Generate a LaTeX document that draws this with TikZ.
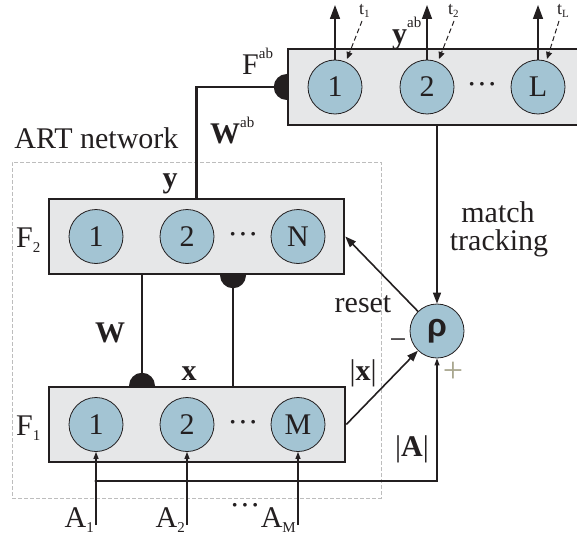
\documentclass[tikz,border=0pt]{standalone}
\usepackage{fontspec}
\setmainfont{Liberation Serif}
\newfontfamily\grsans{Liberation Sans}
\usetikzlibrary{arrows.meta,backgrounds}
\definecolor{ink}{HTML}{231F20}
\definecolor{cfill}{HTML}{A3C4D3}
\definecolor{bfill}{HTML}{E6E7E8}
\definecolor{dgray}{HTML}{BDBDBD}
\definecolor{pluscol}{HTML}{A9A78F}
\newcommand{\fs}[1]{\fontsize{#1}{#1}\selectfont}
\newcommand{\hisc}[1]{\raisebox{16pt}{\fs{15}#1}}
\newcommand{\losc}[1]{\raisebox{-5pt}{\fs{15}#1}}
\tikzset{
  lay/.style={draw=ink, line width=2.5pt, fill=bfill, inner sep=0pt, rectangle},
  unit/.style={circle, draw=ink, line width=0.8pt, fill=cfill, minimum size=54pt, inner sep=0pt, font=\fs{30}, text=ink},
  lbl/.style={font=\fs{30}, inner sep=0pt, text=ink},
  dotsl/.style={font=\fs{31}, inner sep=0pt, text=ink, anchor=base},
  wire/.style={draw=ink, line width=2.2pt},
  arr/.style={draw=ink, line width=1.6pt, -{Triangle[length=11pt,width=8pt]}},
  inarr/.style={draw=ink, line width=1.1pt, -{Triangle[length=7pt,width=5pt]}},
  busline/.style={draw=ink, line width=1.1pt},
  uparr/.style={draw=ink, line width=1.6pt, -{Triangle[length=14pt,width=10pt]}},
  tarr/.style={draw=ink, line width=1pt, dash pattern=on 5pt off 3pt, -{Triangle[length=7pt,width=6pt]}},
  knob/.style={fill=ink},
  artbox/.style={draw=dgray, line width=0.8pt, dash pattern=on 4pt off 2pt, inner sep=0pt, rectangle}
}
\begin{document}
\begin{tikzpicture}[x=1pt,y=-1pt]
\useasboundingbox (0,0) rectangle (577,540);
\clip (0,0) rectangle (577,540);

% ART network dashed frame
\node[artbox, minimum width=369pt, minimum height=336pt] (art) at (196.5,330) {};
\node[lbl, anchor=base] (artl) at (96.5,148) {ART network};

% layers
\node[lay, minimum width=304pt, minimum height=76pt] (Fab) at (440,87) {};
\node[lay, minimum width=295pt, minimum height=75pt] (F2) at (196.5,236.5) {};
\node[lay, minimum width=296pt, minimum height=75pt] (F1) at (197,424.5) {};

% units
\node[unit] (c1) at (335,87) {1};
\node[unit] (c2) at (427,87) {2};
\node[unit] (cL) at (538,87) {L};
\node[dotsl] (cd) at (482,95) {···};

\node[unit] (b1) at (96,236.5) {1};
\node[unit] (b2) at (187,236.5) {2};
\node[unit] (bN) at (298,236.5) {N};
\node[dotsl] (bd) at (243,244.5) {···};

\node[unit] (a1) at (96,424.5) {1};
\node[unit] (a2) at (187,424.5) {2};
\node[unit] (aM) at (298,424.5) {M};
\node[dotsl] (ad) at (243,432.5) {···};

\node[unit, font=\grsans\bfseries\fs{32}] (rho) at (437,331) {ρ};

% helper coordinates
\coordinate (wl) at (142,0);
\coordinate (wr) at (233,0);
\coordinate (inb) at (0,525);
\coordinate (bus) at (0,481);
\coordinate (top) at (0,5);
\coordinate (t1s) at (362,21);
\coordinate (t1e) at (347,59);
\coordinate (t2s) at (454,21);
\coordinate (t2e) at (439,59);
\coordinate (tLs) at (559,21);
\coordinate (tLe) at (547,59);

% knobs (half discs) behind the layers
\begin{scope}[on background layer]
  \fill[knob] (Fab.west) circle (13);
  \fill[knob] (F1.north -| wl) circle (13);
  \fill[knob] (F2.south -| wr) circle (13);
\end{scope}

% F2 -> Fab
\draw[wire] (F2.north) -- (F2.north |- Fab.west) -- (Fab.west);
% W connections
\draw[wire] (F2.south -| wl) -- (F1.north -| wl);
\draw[wire] (F1.north -| wr) -- (F2.south -| wr);

% outputs of Fab
\draw[uparr] (c1.north) -- (c1 |- top);
\draw[uparr] (c2.north) -- (c2 |- top);
\draw[uparr] (cL.north) -- (cL |- top);
\draw[tarr] (t1s) -- (t1e);
\draw[tarr] (t2s) -- (t2e);
\draw[tarr] (tLs) -- (tLe);

% match tracking, reset, |x|
\draw[arr] (rho |- Fab.south) -- (rho.north);
\draw[arr] (rho) -- (F2.east);
\draw[arr] (F1.east) -- (rho);

% inputs
\draw[inarr] (a1 |- inb) -- (a1.south);
\draw[inarr] (a2 |- inb) -- (a2.south);
\draw[inarr] (aM |- inb) -- (aM.south);
\draw[busline, -{Triangle[length=7pt,width=5pt]}] (a1 |- bus) -- (rho |- bus) -- (rho.south);
\fill[ink] (a1 |- bus) circle (1.6);
\fill[ink] (a2 |- bus) circle (1.6);
\fill[ink] (aM |- bus) circle (1.6);

% labels
\node[lbl, anchor=base west] (fabl) at (242,75) {F\hisc{ab}};
\node[lbl, anchor=base west] (wabl) at (210,143) {\textbf{W}\hisc{ab}};
\node[lbl, anchor=base west] (yabl) at (392,44) {\textbf{y}\hisc{ab}};
\node[lbl, anchor=base west] (t1l) at (359,15) {\fs{18}t\raisebox{-3pt}{\fs{11}1}};
\node[lbl, anchor=base west] (t2l) at (448,15) {\fs{18}t\raisebox{-3pt}{\fs{11}2}};
\node[lbl, anchor=base west] (tLl) at (557,15) {\fs{18}t\raisebox{-3pt}{\fs{11}L}};
\node[lbl, anchor=base] (yl) at (170,187) {\textbf{y}};
\node[lbl, anchor=base west] (f2l) at (16,247) {F\losc{2}};
\node[lbl, anchor=base west] (f1l) at (16,435) {F\losc{1}};
\node[lbl, anchor=base] (wlab) at (110,342) {\textbf{W}};
\node[lbl, anchor=base] (xl) at (189,380) {\textbf{x}};
\node[lbl, anchor=base] (m1) at (498,222) {match};
\node[lbl, anchor=base] (m2) at (499,250) {tracking};
\node[lbl, anchor=base] (rs) at (363,312) {reset};
\node[lbl] (minus) at (398,344) {−};
\node[lbl, font=\fs{36}, text=pluscol] (plus) at (453,372) {+};
\node[lbl] (absx) at (363,373) {|\textbf{x}|};
\node[lbl] (absA) at (412,449) {|\textbf{A}|};
\node[lbl, anchor=base east] (A1) at (94,527) {A\losc{1}};
\node[lbl, anchor=base east] (A2) at (185,527) {A\losc{2}};
\node[lbl, anchor=base east] (AM) at (296,527) {A\losc{M}};
\node[dotsl] (idots) at (245,515) {···};
\end{tikzpicture}
\end{document}
